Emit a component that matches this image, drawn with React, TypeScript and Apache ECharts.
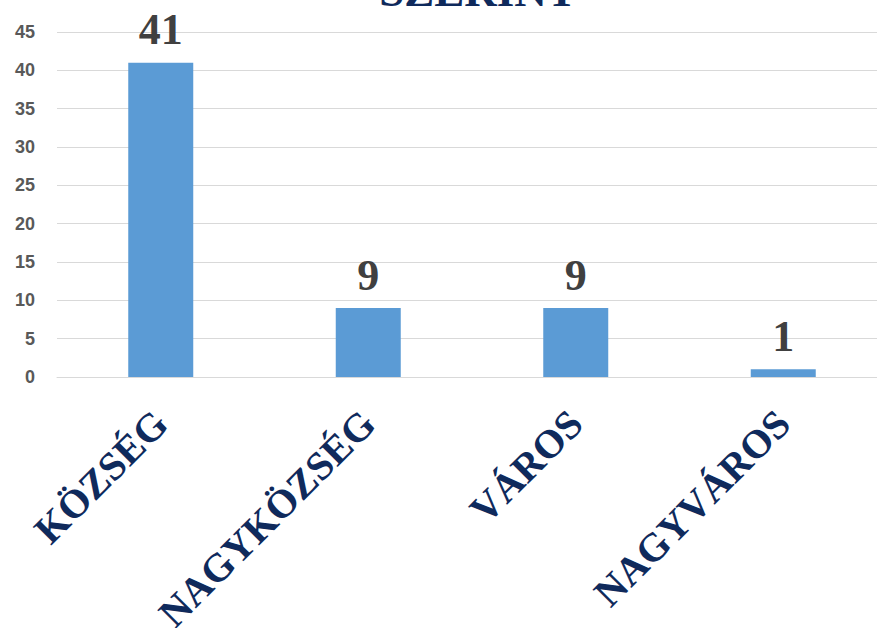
import React, { useEffect, useRef } from "react";
import * as echarts from "echarts";

const categories = ["KÖZSÉG", "NAGYKÖZSÉG", "VÁROS", "NAGYVÁROS"];
const values = [41, 9, 9, 1];
const titleText = "SZERINT";
const yMin = 0;
const yMax = 45;
const yInterval = 5;

export default function App() {
  const ref = useRef<HTMLDivElement>(null);
  useEffect(() => {
    if (!ref.current) return;
    const chart = echarts.init(ref.current, undefined, { renderer: "svg" });
    chart.setOption({
      animation: false,
      backgroundColor: "#ffffff",
      grid: {
        left: 57,
        right: 0,
        top: 32,
        bottom: 251,
        containLabel: false,
        outerBoundsMode: "none",
      },
      graphic: [
        {
          type: "text",
          x: 478,
          y: -9,
          style: {
            text: titleText,
            font: "bold 45px 'Liberation Serif', 'Times New Roman', serif",
            fill: "#0f2a5c",
            textAlign: "center",
            textVerticalAlign: "middle",
          },
        },
      ],
      xAxis: {
        type: "category",
        data: categories,
        axisLine: { show: true, lineStyle: { color: "#d9d9d9", width: 1 } },
        axisTick: { show: false },
        axisLabel: {
          rotate: 45,
          margin: 40,
          interval: 0,
          color: "#0f2a5c",
          fontFamily: "'Liberation Serif', 'Times New Roman', serif",
          fontWeight: "bold",
          fontSize: 40,
        },
      },
      yAxis: {
        type: "value",
        min: yMin,
        max: yMax,
        interval: yInterval,
        axisLine: { show: false },
        axisTick: { show: false },
        splitLine: { lineStyle: { color: "#d9d9d9", width: 1 } },
        axisLabel: {
          margin: 22,
          color: "#595959",
          fontFamily: "'Liberation Sans', Arial, sans-serif",
          fontWeight: "bold",
          fontSize: 18,
        },
      },
      series: [
        {
          type: "bar",
          data: values,
          barWidth: 65,
          itemStyle: { color: "#5b9bd5" },
          label: {
            show: true,
            position: "top",
            distance: 11,
            color: "#404040",
            fontFamily: "'Liberation Serif', 'Times New Roman', serif",
            fontWeight: "bold",
            fontSize: 44,
          },
        },
      ],
    });
    return () => chart.dispose();
  }, []);
  return (
    <div
      ref={ref}
      style={{ position: "fixed", left: 0, top: 0, width: 887, height: 628 }}
    />
  );
}
